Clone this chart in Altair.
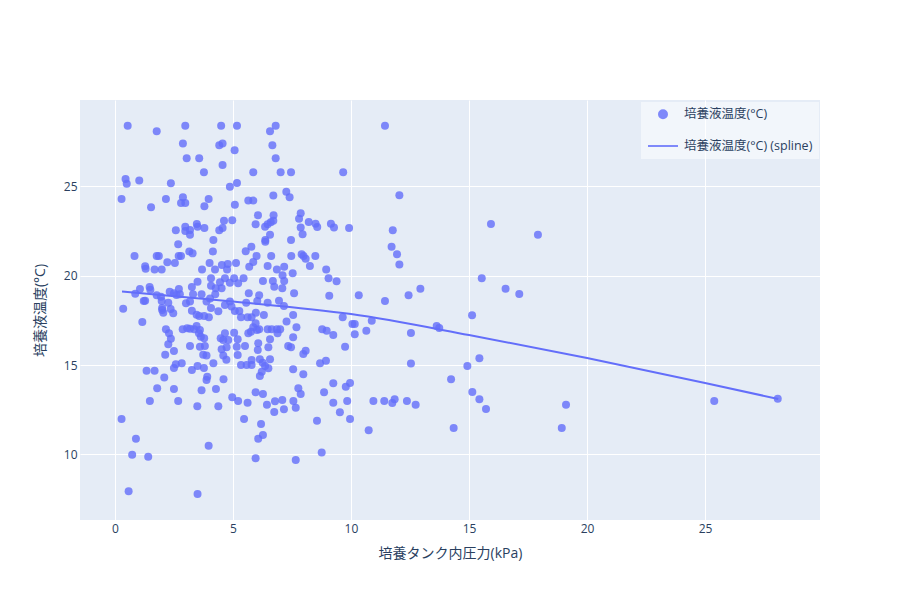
import altair as alt
import pandas as pd

SERIES_PTS = "培養液温度(°C)"
SERIES_LINE = "培養液温度(°C) (spline)"
X_TITLE = "培養タンク内圧力(kPa)"
Y_TITLE = "培養液温度(°C)"

# (pressure kPa, temperature °C), grouped by region
pts_top_left = [
    (0.54, 28.39), (1.77, 28.08), (2.98, 28.39), (2.88, 27.39), (4.50, 28.39), (4.42, 27.30),
    (4.56, 27.39), (3.04, 26.57), (3.57, 26.57), (4.56, 26.19), (3.77, 25.79), (0.45, 25.41),
    (0.50, 25.15), (1.03, 25.32), (2.37, 25.17), (0.28, 24.29), (2.16, 24.29), (2.88, 24.39),
    (2.80, 24.07), (2.98, 24.07), (3.97, 24.29), (3.79, 23.88), (1.53, 23.83), (4.62, 23.08),
    (2.58, 22.54), (2.98, 22.74), (2.98, 22.50), (3.18, 22.56), (3.18, 22.29), (3.47, 22.89),
    (3.50, 22.74), (3.79, 22.67), (4.42, 22.54), (4.56, 22.67), (4.17, 22.00),
]
pts_top_mid = [
    (5.17, 28.39), (6.81, 28.39), (6.57, 28.08), (6.67, 27.30), (5.07, 27.02), (6.81, 26.57),
    (5.86, 25.79), (7.02, 25.79), (7.46, 25.79), (9.67, 25.79), (5.17, 25.19), (4.87, 24.98),
    (7.26, 24.70), (7.40, 24.39), (6.71, 24.48), (5.65, 24.20), (5.86, 24.20), (5.08, 23.97),
    (4.97, 23.10), (6.06, 23.38), (6.72, 23.38), (6.71, 23.08), (6.60, 22.99), (6.47, 22.88),
    (6.36, 22.74), (5.96, 22.88), (6.57, 22.29), (6.37, 22.00), (7.87, 23.49), (7.80, 23.19),
    (8.21, 23.00), (8.50, 22.91), (8.57, 22.73), (7.87, 22.69), (7.95, 22.32), (9.15, 22.91),
    (9.28, 22.69), (9.92, 22.67), (7.46, 22.00),
]
pts_right = [
    (11.44, 28.39), (12.05, 24.50), (11.77, 22.54), (11.72, 21.62), (11.95, 21.20), (12.05, 20.62),
    (15.93, 22.89), (17.92, 22.29), (15.54, 19.85), (16.55, 19.27), (17.13, 18.98), (10.33, 18.90),
    (11.44, 18.58), (12.44, 18.90), (12.94, 19.27), (10.06, 17.30), (10.16, 17.30), (10.88, 17.48),
    (10.65, 16.92), (10.16, 16.72), (12.54, 16.79), (13.63, 17.19), (13.74, 17.07), (15.13, 17.78),
    (12.54, 15.08), (15.44, 15.38), (14.93, 14.95), (14.24, 14.20), (9.96, 14.00), (9.78, 13.79),
    (9.84, 12.99), (9.53, 12.36), (9.96, 11.98), (10.95, 12.99), (11.41, 12.99), (11.75, 12.88),
    (11.85, 13.08), (12.37, 12.99), (12.74, 12.78), (10.75, 11.35), (14.35, 11.48), (15.14, 13.49),
    (15.44, 13.08), (15.72, 12.54), (19.11, 12.78), (18.93, 11.48), (25.39, 12.99), (28.08, 13.12),
]
pts_mid_left = [
    (0.83, 21.10), (1.77, 21.10), (1.86, 21.10), (2.68, 21.76), (2.70, 21.10), (2.80, 21.10),
    (3.15, 21.36), (3.29, 21.25), (4.15, 21.36), (1.28, 20.53), (1.30, 20.39), (1.68, 20.34),
    (1.98, 20.34), (2.22, 20.75), (2.54, 20.71), (3.69, 20.34), (4.01, 20.71), (4.24, 20.34),
    (4.53, 20.60), (1.06, 19.26), (0.86, 18.99), (1.47, 19.37), (1.50, 19.22), (1.28, 18.60),
    (1.22, 18.58), (0.35, 18.15), (1.77, 18.90), (1.95, 18.82), (1.98, 18.58), (2.00, 18.19),
    (2.05, 17.93), (2.00, 18.08), (2.26, 18.49), (2.36, 18.14), (2.47, 17.90), (2.32, 19.10),
    (2.50, 19.02), (2.61, 18.92), (2.71, 19.26), (2.75, 18.96), (3.01, 18.46), (3.18, 18.55),
    (3.26, 19.37), (3.50, 19.66), (3.31, 18.96), (3.67, 18.96), (3.88, 18.55), (4.03, 18.73),
    (4.07, 19.85), (4.07, 19.44), (4.27, 19.29), (4.45, 19.63), (4.52, 19.29), (4.25, 18.96),
    (4.07, 18.19), (4.38, 18.01), (3.98, 17.67), (3.78, 17.74), (3.57, 17.74), (3.46, 17.82),
    (3.26, 18.04), (1.16, 17.41), (2.16, 17.00), (2.29, 16.78), (2.37, 16.47), (2.26, 16.16),
    (2.87, 17.00), (3.06, 17.06), (3.18, 17.03), (3.36, 17.00), (3.46, 17.19), (3.60, 16.96),
    (3.64, 16.59), (3.56, 16.78), (3.78, 16.50), (3.81, 16.07), (3.60, 16.03), (3.18, 16.07),
    (2.50, 15.79), (2.13, 15.58), (3.74, 15.58), (3.88, 15.54), (4.48, 16.50), (4.59, 16.40),
    (4.52, 15.88), (4.59, 15.54), (4.17, 15.10), (2.58, 15.04), (2.50, 14.83), (2.83, 15.10),
    (3.26, 14.72), (3.50, 14.95), (3.77, 14.83), (1.34, 14.68), (1.68, 14.68), (2.09, 14.31),
    (3.91, 14.35),
]
pts_mid_mid = [
    (5.54, 21.37), (5.78, 21.62), (6.00, 21.10), (6.37, 21.90), (6.62, 21.10), (7.47, 21.10),
    (7.91, 21.20), (7.99, 21.10), (8.08, 20.95), (8.49, 21.10), (8.26, 20.54), (6.47, 20.54),
    (6.86, 20.34), (7.17, 20.50), (7.53, 20.13), (7.10, 20.02), (7.17, 19.70), (5.69, 20.50),
    (5.86, 20.77), (5.13, 20.71), (4.78, 20.65), (4.75, 20.34), (8.95, 20.34), (9.05, 19.85),
    (9.39, 19.69), (9.08, 18.88), (4.66, 19.85), (5.05, 19.85), (5.45, 19.85), (5.22, 19.57),
    (4.87, 19.61), (6.27, 19.70), (6.69, 19.70), (6.75, 19.38), (7.09, 19.29), (7.59, 19.02),
    (5.67, 19.02), (6.11, 18.90), (6.03, 18.58), (5.56, 18.49), (6.47, 18.49), (6.95, 18.60),
    (7.16, 18.30), (4.87, 18.55), (4.66, 18.36), (5.08, 18.02), (5.27, 18.02), (5.34, 17.67),
    (4.94, 18.27), (5.62, 17.67), (5.79, 17.67), (5.97, 17.93), (6.31, 17.80), (5.96, 17.34),
    (5.86, 17.11), (5.76, 16.87), (6.02, 16.96), (6.11, 17.00), (5.65, 16.78), (6.47, 17.00),
    (6.64, 17.00), (6.86, 17.00), (7.00, 17.00), (6.89, 16.78), (6.57, 16.44), (7.27, 17.43),
    (7.55, 17.80), (7.69, 17.11), (7.55, 16.55), (8.78, 17.00), (8.97, 16.92), (9.25, 16.68),
    (9.65, 17.67), (7.34, 16.07), (7.46, 16.00), (8.08, 15.80), (7.98, 15.62), (9.75, 16.03),
    (5.05, 16.81), (4.66, 16.78), (4.80, 16.40), (5.20, 16.44), (5.16, 16.03), (4.73, 16.00),
    (5.51, 16.07), (6.07, 16.22), (6.05, 15.84), (6.50, 16.00), (5.20, 15.56), (4.72, 15.30),
    (5.79, 15.28), (6.14, 15.32), (6.57, 15.32), (5.34, 15.00), (5.58, 15.00), (5.79, 15.00),
    (6.26, 15.13), (6.36, 14.95), (6.50, 14.82), (6.22, 14.63), (6.14, 14.39), (7.55, 14.76),
    (7.98, 14.48), (8.69, 15.10), (8.94, 15.24),
]
pts_low_left = [
    (1.79, 13.70), (2.50, 13.66), (3.67, 13.59), (4.28, 13.66), (3.88, 14.16), (1.48, 12.99),
    (2.68, 12.99), (3.49, 12.69), (4.38, 12.69), (0.28, 11.98), (0.89, 10.88), (3.97, 10.49),
    (0.73, 9.98), (1.41, 9.87), (0.58, 7.94), (3.50, 7.78), (4.60, 14.20),
]
pts_low_mid = [
    (4.97, 13.20), (5.22, 12.99), (5.62, 12.89), (5.96, 13.48), (6.27, 13.38), (6.44, 12.78),
    (5.47, 11.98), (6.19, 11.70), (6.07, 10.88), (6.27, 11.09), (5.96, 9.78), (6.78, 12.97),
    (7.09, 13.04), (6.75, 12.37), (7.16, 12.52), (7.56, 12.99), (7.77, 13.70), (7.87, 13.38),
    (7.66, 12.61), (7.66, 9.69), (8.56, 11.89), (8.76, 10.10), (8.86, 13.48), (9.25, 13.98),
    (9.25, 12.89),
]

# spline curve knots
line_pressure = [0.3, 5.0, 10.0, 15.0, 20.0, 25.0, 28.1]
line_temp = [19.12, 18.56, 17.85, 16.68, 15.40, 14.00, 13.10]

x_ticks = [0, 5, 10, 15, 20, 25]
y_ticks = [10, 15, 20, 25]

all_pts = pts_top_left + pts_top_mid + pts_right + pts_mid_left + pts_mid_mid + pts_low_left + pts_low_mid
df_pts = pd.DataFrame({
    "pressure": [p[0] for p in all_pts],
    "temp": [p[1] for p in all_pts],
    "series": SERIES_PTS,
})
df_line = pd.DataFrame({"pressure": line_pressure, "temp": line_temp, "series": SERIES_LINE})

BLUE = "#636efa"
TEXT = "#2a3f5f"
FONT = "Open Sans, Noto Sans CJK JP, sans-serif"

x_enc = alt.X("pressure:Q", title=X_TITLE,
              scale=alt.Scale(domain=[-1.48, 29.87], nice=False, zero=False),
              axis=alt.Axis(values=x_ticks, labelPadding=3, titlePadding=12))
y_enc = alt.Y("temp:Q", title=Y_TITLE,
              scale=alt.Scale(domain=[6.33, 29.83], nice=False, zero=False),
              axis=alt.Axis(values=y_ticks, labelPadding=3, titlePadding=16))

dom = [SERIES_PTS, SERIES_LINE]
legend = alt.Legend(title=None, orient="none", legendX=561, legendY=2,
                    fillColor="rgba(255,255,255,0.5)", padding=6, rowPadding=7,
                    labelFontSize=12.5, labelColor=TEXT, labelFont=FONT, labelOffset=5,
                    symbolStrokeColor=BLUE, symbolStrokeWidth=2)

points = alt.Chart(df_pts).mark_point(filled=True, opacity=0.8).encode(
    x=x_enc, y=y_enc,
    color=alt.Color("series:N", scale=alt.Scale(domain=dom, range=[BLUE, BLUE]), legend=legend),
    shape=alt.Shape("series:N", scale=alt.Scale(domain=dom, range=["circle", "stroke"]), legend=legend),
    size=alt.Size("series:N", scale=alt.Scale(domain=dom, range=[64, 900]), legend=legend),
)

line = alt.Chart(df_line).mark_line(interpolate="monotone", strokeWidth=2).encode(
    x="pressure:Q", y="temp:Q",
    color=alt.Color("series:N", scale=alt.Scale(domain=dom, range=[BLUE, BLUE]), legend=legend),
)

chart = alt.layer(points, line).properties(
    width=740, height=420,
    autosize=alt.AutoSizeParams(type="none"),
    padding={"left": 72, "top": 92, "right": 72, "bottom": 72},
    background="white",
).configure(font=FONT).configure_view(fill="#E5ECF6", stroke=None).configure_axis(
    domain=False, ticks=False, gridColor="white", gridWidth=1,
    labelColor=TEXT, titleColor=TEXT, labelFont=FONT, titleFont=FONT,
    labelFontSize=12, titleFontSize=14, titleFontWeight="normal",
)

chart.save("out.html", embed_options={"renderer": "svg", "actions": False})
